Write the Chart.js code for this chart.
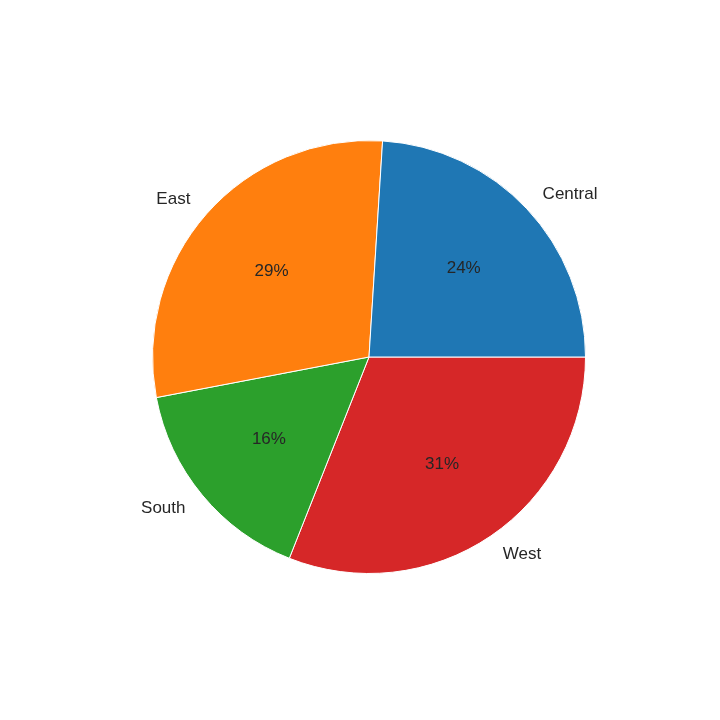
<!DOCTYPE html>
<html><head><script src="https://cdn.jsdelivr.net/npm/chart.js@4"></script>
<style>body{margin:0;background:#fff}#w{width:720px;height:720px}</style></head>
<body><div id="w"><canvas id="c"></canvas></div>
<script>
// matplotlib draws counterclockwise from 3 o'clock; Chart.js draws clockwise, so order is reversed
const categories = ["West", "South", "East", "Central"];
const values = [31, 16, 29, 24];
const colors = ["#d62728", "#2ca02c", "#ff7f0e", "#1f77b4"];

const labelPlugin = {
  id: 'pieLabels',
  afterDatasetsDraw(chart) {
    const ctx = chart.ctx;
    const meta = chart.getDatasetMeta(0);
    const total = values.reduce((a, b) => a + b, 0);
    ctx.save();
    ctx.font = '17px "Liberation Sans", Arial, sans-serif';
    ctx.fillStyle = '#262626';
    meta.data.forEach((arc, i) => {
      const p = arc.getProps(['x', 'y', 'startAngle', 'endAngle', 'outerRadius'], true);
      const a = (p.startAngle + p.endAngle) / 2;
      const r = p.outerRadius;
      ctx.textAlign = 'center'; ctx.textBaseline = 'middle';
      ctx.fillText(Math.round(values[i] / total * 100) + '%', p.x + Math.cos(a) * r * 0.6, p.y + Math.sin(a) * r * 0.6);
      const lx = p.x + Math.cos(a) * r * 1.1, ly = p.y + Math.sin(a) * r * 1.1;
      ctx.textAlign = Math.cos(a) >= 0 ? 'left' : 'right';
      ctx.fillText(categories[i], lx, ly);
    });
    ctx.restore();
  }
};

new Chart(document.getElementById('c'), {
  type: 'pie',
  data: { labels: categories, datasets: [{ data: values, backgroundColor: colors, borderColor: '#fff', borderWidth: 1 }] },
  options: {
    responsive: true, maintainAspectRatio: false, animation: false,
    rotation: 90,
    layout: { padding: { left: 152, right: 134, top: 140, bottom: 146 } },
    plugins: { legend: { display: false }, tooltip: { enabled: false } }
  },
  plugins: [labelPlugin]
});
</script></body></html>
